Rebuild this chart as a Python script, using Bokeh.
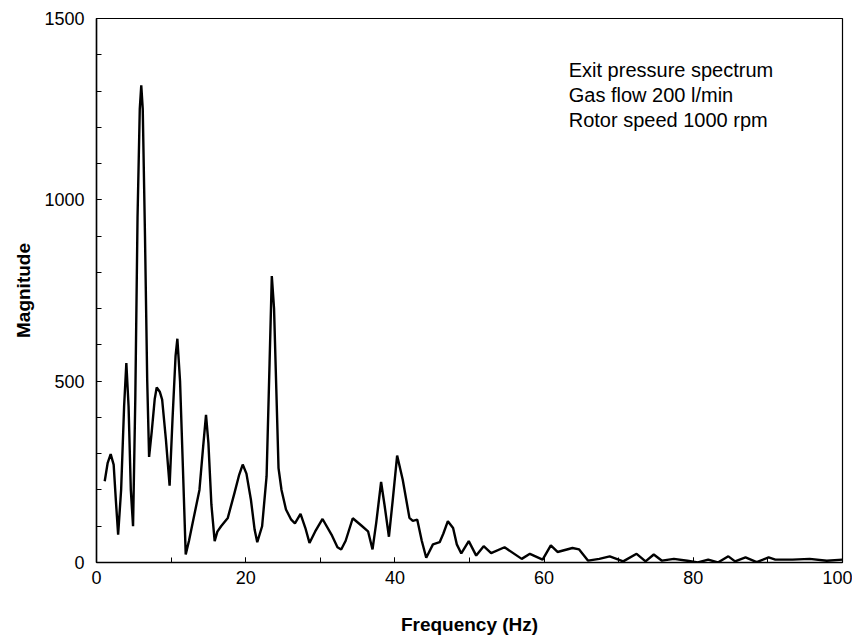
from bokeh.plotting import figure
from bokeh.models import Range1d, SingleIntervalTicker, Label
from bokeh.embed import file_html
from bokeh.resources import INLINE

freq = [1.1, 1.5, 1.9, 2.3, 2.6, 2.9, 3.3, 3.7, 4.0, 4.3, 4.6, 4.9, 5.2, 5.5, 5.8, 6.0, 6.2, 6.5, 6.8, 7.05, 7.4,
        7.8, 8.07, 8.5, 8.8, 9.3, 9.8, 10.2, 10.6, 10.84, 11.2, 11.6, 11.96, 12.4, 12.9, 13.8, 14.3, 14.68,
        15.0, 15.4, 15.84, 16.2, 16.7, 17.6, 18.5, 19.1, 19.6, 20.1, 20.7, 21.2, 21.55, 22.2, 22.8, 23.2,
        23.5, 23.8, 24.1, 24.4, 24.8, 25.4, 26.1, 26.6, 27.35, 28.0, 28.55, 29.3, 30.3, 31.5, 32.3, 32.8,
        33.4, 34.35, 35.5, 36.4, 37.0, 37.5, 38.15, 38.6, 39.2, 39.7, 40.3, 41.05, 41.95, 42.4, 43.0, 43.6,
        44.2, 45.1, 46.0, 46.5, 47.1, 47.8, 48.3, 48.9, 49.9, 50.9, 51.9, 52.9, 54.7, 57.0, 58.1, 59.8,
        60.9, 61.8, 63.8, 64.7, 65.9, 67.4, 68.8, 70.6, 72.4, 73.6, 74.7, 75.8, 77.4, 79.2, 80.6, 82.0,
        83.3, 84.7, 85.6, 87.0, 88.5, 90.1, 91.0, 93.3, 95.6, 97.9, 100.0]
magnitude = [224, 275, 299, 270, 170, 77, 200, 430, 550, 430, 200, 100, 450, 950, 1250, 1316, 1250, 900, 500, 291, 360,
             450, 483, 470, 449, 340, 212, 400, 570, 617, 500, 250, 22, 60, 110, 200, 320, 407,
             330, 160, 59, 85, 100, 123, 192, 240, 270, 245, 173, 90, 56, 100, 238, 550,
             790, 700, 480, 260, 200, 146, 118, 108, 134, 95, 54, 85, 120, 77, 42, 36,
             60, 122, 102, 86, 36, 110, 222, 160, 71, 170, 295, 228, 123, 115, 118, 60,
             13, 50, 56, 80, 114, 95, 50, 25, 59, 19, 45, 26, 42, 10, 24, 8,
             47, 29, 40, 36, 5, 10, 17, 3, 24, 3, 22, 5, 10, 5, 0, 8,
             0, 17, 3, 14, 1, 14, 8, 8, 10, 5, 8]

note_lines = ["Exit pressure spectrum", "Gas flow 200 l/min", "Rotor speed 1000 rpm"]
note_y = [1357, 1288, 1219]
note_x = 63.3

FONT = "Liberation Sans"

p = figure(width=852, height=637, output_backend="svg", toolbar_location=None,
           x_range=Range1d(0, 100), y_range=Range1d(0, 1500),
           min_border_left=96, min_border_right=10, min_border_top=18, min_border_bottom=74)
p.xgrid.visible = False
p.ygrid.visible = False
p.outline_line_color = "black"
p.outline_line_width = 1.2
p.background_fill_color = "white"
p.border_fill_color = "white"

p.line(freq, magnitude, line_color="black", line_width=2.4)

p.xaxis.ticker = SingleIntervalTicker(interval=20, num_minor_ticks=2)
p.yaxis.ticker = SingleIntervalTicker(interval=500, num_minor_ticks=5)
for ax in (p.xaxis, p.yaxis):
    ax.axis_line_color = "black"
    ax.axis_line_width = 1.5
    ax.major_tick_in = 5
    ax.major_tick_out = 0
    ax.minor_tick_in = 5
    ax.minor_tick_out = 0
    ax.major_tick_line_color = "black"
    ax.minor_tick_line_color = "black"
    ax.major_label_text_font = FONT
    ax.major_label_text_font_size = "18px"
    ax.major_label_text_color = "black"
    ax.axis_label_text_font = FONT
    ax.axis_label_text_font_size = "19px"
    ax.axis_label_text_font_style = "bold"
    ax.axis_label_text_color = "black"
p.xaxis.axis_label = "Frequency (Hz)"
p.yaxis.axis_label = "Magnitude"
p.xaxis.major_label_standoff = 8
p.yaxis.major_label_standoff = 12
p.xaxis.axis_label_standoff = 27
p.yaxis.axis_label_standoff = 7

for t, yy in zip(note_lines, note_y):
    p.add_layout(Label(x=note_x, y=yy, text=t, text_font=FONT, text_font_size="20px",
                       text_color="black", text_baseline="middle", text_align="left"))

open("out.html", "w").write(file_html(p, INLINE))
